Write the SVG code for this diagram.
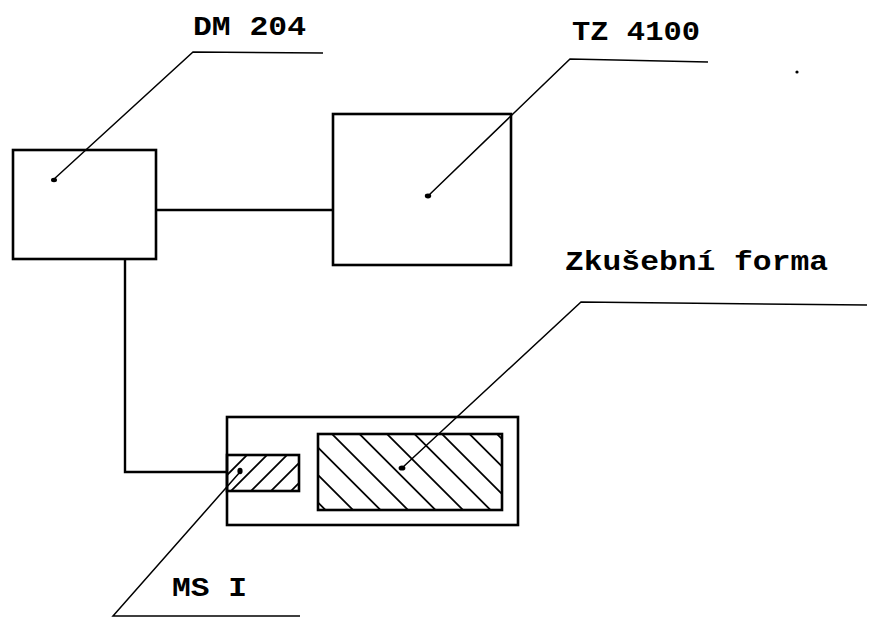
<svg xmlns="http://www.w3.org/2000/svg" width="873" height="618" viewBox="0 0 873 618">
<style>
.box{fill:none;stroke:#000;stroke-width:2.6}
.wire{fill:none;stroke:#000;stroke-width:2.4}
.lead{fill:none;stroke:#000;stroke-width:1.5}
.hatch{stroke:#000;stroke-width:1.8}
.dot{fill:#000}
.lbl{font-family:"Liberation Mono","DejaVu Sans Mono",monospace;font-size:28px;font-weight:bold;fill:#000}
</style>
<defs>
<clipPath id="clipBig"><rect x="318" y="434" width="184" height="76"/></clipPath>
<clipPath id="clipSmall"><rect x="227" y="455" width="72" height="36"/></clipPath>
</defs>
<rect width="873" height="618" fill="#fff"/>

<g id="connectors">
<polyline class="wire" points="156,210 333,210"/>
<polyline class="wire" points="125,259 125,472 227,472"/>
</g>

<g id="dm204">
<rect class="box" x="13" y="150" width="143" height="109"/>
<polyline class="lead" points="53,180 193,52 323,53"/>
<ellipse class="dot" cx="54" cy="180" rx="3" ry="2.2"/>
<text class="lbl" x="193" y="35" textLength="113" lengthAdjust="spacingAndGlyphs">DM 204</text>
</g>

<g id="tz4100">
<rect class="box" x="333" y="114" width="178" height="151"/>
<polyline class="lead" points="428,196 570,59 708,62"/>
<ellipse class="dot" cx="428" cy="196" rx="3.2" ry="2.4"/>
<text class="lbl" x="572" y="40" textLength="128" lengthAdjust="spacingAndGlyphs">TZ 4100</text>
<circle class="dot" cx="797" cy="72" r="1.6"/>
</g>

<g id="assembly">
<rect class="box" x="227" y="417" width="291" height="108"/>
</g>

<g id="zkusebni-forma">
<rect class="box" x="318" y="434" width="184" height="76"/>
<g clip-path="url(#clipBig)">
<line class="hatch" x1="381" y1="318" x2="621" y2="558"/>
<line class="hatch" x1="353.5" y1="318" x2="593.5" y2="558"/>
<line class="hatch" x1="326" y1="318" x2="566" y2="558"/>
<line class="hatch" x1="298.5" y1="318" x2="538.5" y2="558"/>
<line class="hatch" x1="271" y1="318" x2="511" y2="558"/>
<line class="hatch" x1="243.5" y1="318" x2="483.5" y2="558"/>
<line class="hatch" x1="216" y1="318" x2="456" y2="558"/>
<line class="hatch" x1="188.5" y1="318" x2="428.5" y2="558"/>
<line class="hatch" x1="161" y1="318" x2="401" y2="558"/>
<line class="hatch" x1="133.5" y1="318" x2="373.5" y2="558"/>
</g>
<polyline class="lead" points="402,468 581,302 867,305"/>
<ellipse class="dot" cx="402" cy="468" rx="3.4" ry="2.6"/>
<text class="lbl" x="565" y="270" textLength="263" lengthAdjust="spacingAndGlyphs">Zkušební forma</text>
</g>

<g id="ms-i">
<rect class="box" x="227" y="455" width="72" height="36"/>
<g clip-path="url(#clipSmall)">
<line class="hatch" x1="227" y1="475" x2="287" y2="415"/>
<line class="hatch" x1="227" y1="495" x2="307" y2="415"/>
<line class="hatch" x1="227" y1="515" x2="327" y2="415"/>
<line class="hatch" x1="227" y1="535" x2="347" y2="415"/>
<line class="hatch" x1="227" y1="555" x2="367" y2="415"/>
</g>
<polyline class="lead" points="240,472 113,616 300,616"/>
<ellipse class="dot" cx="240" cy="471" rx="2.6" ry="3.2"/>
<text class="lbl" x="172" y="596" textLength="75" lengthAdjust="spacingAndGlyphs">MS I</text>
</g>
</svg>
